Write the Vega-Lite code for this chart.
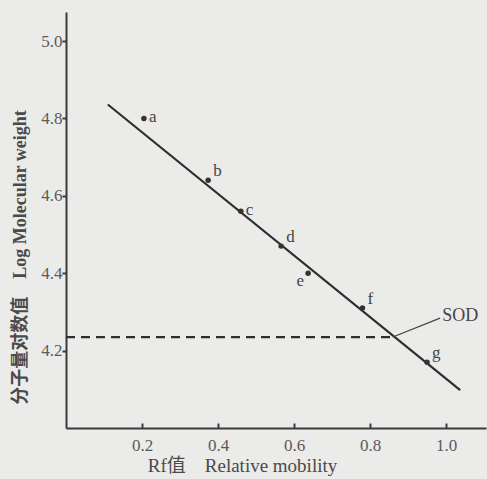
{
  "$schema": "https://vega.github.io/schema/vega-lite/v6.json",
  "width": 420,
  "height": 416,
  "autosize": {"type": "none"},
  "padding": {"left": 66, "top": 12, "right": 1, "bottom": 51},
  "background": "#ebebe9",
  "config": {
    "view": {"stroke": null},
    "font": "Liberation Serif, Noto Sans CJK SC",
    "axis": {
      "grid": false,
      "domainColor": "#3a3a3a",
      "domainWidth": 2,
      "tickColor": "#3a3a3a",
      "tickWidth": 2,
      "labelColor": "#5a5a5a",
      "labelFont": "Liberation Serif",
      "labelFontSize": 17,
      "titleColor": "#4a4a4a",
      "titleFont": "Liberation Serif, Noto Sans CJK SC"
    }
  },
  "datasets": {
    "points": [
      {"rf": 0.205, "logmw": 4.80, "label": "a"},
      {"rf": 0.374, "logmw": 4.64, "label": "b"},
      {"rf": 0.46, "logmw": 4.56, "label": "c"},
      {"rf": 0.566, "logmw": 4.47, "label": "d"},
      {"rf": 0.637, "logmw": 4.40, "label": "e"},
      {"rf": 0.78, "logmw": 4.31, "label": "f"},
      {"rf": 0.95, "logmw": 4.17, "label": "g"}
    ],
    "fit": [
      {"rf": 0.11, "logmw": 4.836},
      {"rf": 1.037, "logmw": 4.098}
    ],
    "sod": [
      {"rf": 0.0, "logmw": 4.235},
      {"rf": 0.86, "logmw": 4.235}
    ],
    "leader": [
      {"rf": 0.86, "logmw": 4.235},
      {"rf": 0.984, "logmw": 4.284}
    ],
    "sodlabel": [
      {"rf": 0.99, "logmw": 4.29, "label": "SOD"}
    ]
  },
  "layer": [
    {
      "data": {"name": "fit"},
      "mark": {"type": "line", "color": "#2e2e2e", "strokeWidth": 2.2},
      "encoding": {
        "x": {
          "field": "rf", "type": "quantitative",
          "scale": {"domain": [0, 1.105], "nice": false, "zero": false},
          "axis": {
            "values": [0.2, 0.4, 0.6, 0.8, 1.0],
            "format": ".1f",
            "tickSize": -5,
            "labelPadding": 14,
            "title": "Rf值\u00a0\u00a0\u00a0\u00a0Relative mobility",
            "titleFontSize": 19,
            "titleFontWeight": "normal",
            "titleX": 176,
            "titleY": 37,
            "titleBaseline": "middle",
            "titleAnchor": "middle"
          }
        },
        "y": {
          "field": "logmw", "type": "quantitative",
          "scale": {"domain": [4.0, 5.075], "nice": false, "zero": false},
          "axis": {
            "values": [4.2, 4.4, 4.6, 4.8, 5.0],
            "format": ".1f",
            "tickSize": 4,
            "labelPadding": 0,
            "title": "分子量对数值\u00a0\u00a0\u00a0\u00a0Log Molecular weight",
            "titleFontSize": 18,
            "titleFontWeight": "bold",
            "titleX": -46,
            "titleY": 245,
            "titleBaseline": "middle",
            "titleAnchor": "middle"
          }
        }
      }
    },
    {
      "data": {"name": "sod"},
      "mark": {"type": "line", "color": "#2e2e2e", "strokeWidth": 2.2, "strokeDash": [9, 6]},
      "encoding": {
        "x": {"field": "rf", "type": "quantitative"},
        "y": {"field": "logmw", "type": "quantitative"}
      }
    },
    {
      "data": {"name": "leader"},
      "mark": {"type": "line", "color": "#444444", "strokeWidth": 1.2},
      "encoding": {
        "x": {"field": "rf", "type": "quantitative"},
        "y": {"field": "logmw", "type": "quantitative"}
      }
    },
    {
      "data": {"name": "points"},
      "mark": {"type": "point", "filled": true, "color": "#333333", "size": 30, "opacity": 1},
      "encoding": {
        "x": {"field": "rf", "type": "quantitative"},
        "y": {"field": "logmw", "type": "quantitative"}
      }
    },
    {
      "data": {"name": "points"},
      "transform": [{"filter": "datum.label === 'a' || datum.label === 'c'"}],
      "mark": {"type": "text", "align": "left", "baseline": "middle", "dx": 5, "dy": -1, "fontSize": 17, "color": "#444444", "font": "Liberation Serif"},
      "encoding": {
        "x": {"field": "rf", "type": "quantitative"},
        "y": {"field": "logmw", "type": "quantitative"},
        "text": {"field": "label"}
      }
    },
    {
      "data": {"name": "points"},
      "transform": [{"filter": "datum.label === 'b' || datum.label === 'd' || datum.label === 'f' || datum.label === 'g'"}],
      "mark": {"type": "text", "align": "left", "baseline": "middle", "dx": 5, "dy": -9, "fontSize": 17, "color": "#444444", "font": "Liberation Serif"},
      "encoding": {
        "x": {"field": "rf", "type": "quantitative"},
        "y": {"field": "logmw", "type": "quantitative"},
        "text": {"field": "label"}
      }
    },
    {
      "data": {"name": "points"},
      "transform": [{"filter": "datum.label === 'e'"}],
      "mark": {"type": "text", "align": "right", "baseline": "middle", "dx": -4, "dy": 8, "fontSize": 17, "color": "#444444", "font": "Liberation Serif"},
      "encoding": {
        "x": {"field": "rf", "type": "quantitative"},
        "y": {"field": "logmw", "type": "quantitative"},
        "text": {"field": "label"}
      }
    },
    {
      "data": {"name": "sodlabel"},
      "mark": {"type": "text", "align": "left", "baseline": "middle", "fontSize": 18, "color": "#444444", "font": "Liberation Serif"},
      "encoding": {
        "x": {"field": "rf", "type": "quantitative"},
        "y": {"field": "logmw", "type": "quantitative"},
        "text": {"field": "label"}
      }
    }
  ]
}
